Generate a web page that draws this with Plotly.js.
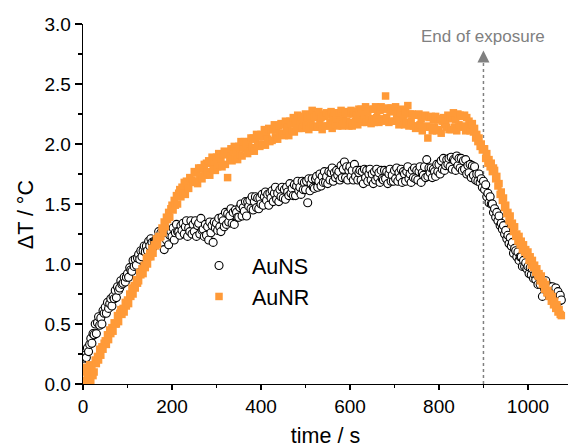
<!DOCTYPE html>
<html>
<head>
<meta charset="utf-8">
<script src="https://cdn.plot.ly/plotly-3.0.1.min.js"></script>
<style>html,body{margin:0;padding:0;background:#fff;}#chart{width:568px;height:448px;}</style>
</head>
<body>
<div id="chart"></div>
<script>
// sampling: first time (s) and step (s) of the recorded series
const timeStart = 0;
const timeStep = 2.5;

// AuNS temperature rise (°C), one value every 2.5 s from 0 s (10 values = 25 s per row)
const auNS = [
0.17,0.15,0.24,0.22,0.30,0.27,0.33,0.38,0.34,0.42,
0.41,0.50,0.42,0.51,0.56,0.49,0.55,0.50,0.61,0.59,
0.64,0.59,0.68,0.63,0.67,0.71,0.65,0.73,0.71,0.78,
0.72,0.81,0.78,0.80,0.86,0.83,0.84,0.89,0.85,0.89,
0.92,0.89,0.97,0.95,0.94,1.03,0.98,1.04,0.99,1.05,
1.08,1.04,1.11,1.06,1.11,1.15,1.10,1.15,1.11,1.19,
1.15,1.21,1.18,1.14,1.19,1.19,1.21,1.21,1.27,1.20,
1.26,1.18,1.27,1.12,1.25,1.20,1.28,1.16,1.24,1.27,
1.23,1.30,1.20,1.26,1.33,1.27,1.27,1.24,1.32,1.28,
1.34,1.25,1.31,1.36,1.23,1.30,1.27,1.36,1.25,1.33,
1.27,1.36,1.23,1.32,1.34,1.25,1.38,1.28,1.29,1.23,
1.33,1.24,1.31,1.20,1.35,1.26,1.32,1.18,1.35,1.30,
1.34,1.28,1.38,1.31,1.27,1.39,1.36,1.31,1.43,1.33,
1.42,1.35,1.40,1.46,1.34,1.43,1.33,1.45,1.43,1.39,
1.39,1.47,1.50,1.40,1.47,1.44,1.52,1.40,1.52,1.48,
1.53,1.46,1.56,1.45,1.52,1.56,1.47,1.55,1.46,1.55,
1.50,1.58,1.49,1.56,1.60,1.53,1.58,1.49,1.59,1.55,
1.61,1.52,1.59,1.64,1.54,1.59,1.52,1.62,1.56,1.64,
1.55,1.62,1.54,1.64,1.60,1.57,1.67,1.59,1.63,1.57,
1.66,1.57,1.65,1.69,1.61,1.64,1.58,1.69,1.62,1.68,
1.62,1.69,1.51,1.71,1.61,1.67,1.71,1.64,1.63,1.71,
1.73,1.64,1.69,1.75,1.65,1.73,1.68,1.77,1.68,1.73,
1.67,1.77,1.70,1.76,1.80,1.69,1.76,1.72,1.78,1.74,
1.77,1.70,1.82,1.72,1.79,1.85,1.72,1.81,1.70,1.78,
1.81,1.73,1.78,1.70,1.83,1.73,1.78,1.70,1.76,1.78,
1.70,1.77,1.67,1.79,1.72,1.78,1.69,1.75,1.79,1.70,
1.75,1.67,1.77,1.70,1.79,1.72,1.76,1.68,1.78,1.71,
1.70,1.78,1.71,1.77,1.67,1.75,1.79,1.69,1.74,1.69,
1.78,1.71,1.80,1.69,1.76,1.72,1.79,1.68,1.77,1.75,
1.69,1.77,1.81,1.71,1.75,1.68,1.78,1.72,1.80,1.71,
1.78,1.70,1.77,1.81,1.68,1.76,1.74,1.81,1.72,1.87,
1.73,1.80,1.76,1.80,1.72,1.79,1.77,1.73,1.83,1.77,
1.83,1.75,1.86,1.79,1.88,1.78,1.82,1.87,1.83,1.88,
1.81,1.89,1.79,1.87,1.86,1.78,1.90,1.82,1.88,1.80,
1.88,1.78,1.86,1.79,1.87,1.75,1.82,1.76,1.83,1.72,
1.82,1.74,1.81,1.70,1.75,1.69,1.75,1.68,1.71,1.64,
1.69,1.62,1.66,1.56,1.59,1.51,1.56,1.50,1.50,1.43,
1.46,1.39,1.43,1.36,1.40,1.32,1.34,1.29,1.32,1.25,
1.28,1.21,1.24,1.17,1.22,1.15,1.18,1.09,1.13,1.11,
1.06,1.10,1.03,1.06,1.06,0.98,1.03,0.98,1.01,0.96,
0.98,0.92,0.97,0.91,0.96,0.88,0.91,0.87,0.91,0.83,
0.89,0.83,0.88,0.73,0.84,0.79,0.86,0.78,0.82,0.74,
0.81,0.73,0.81,0.73,0.77,0.80,0.69,0.77,0.69,0.74,
0.70
];

// AuNR temperature rise (°C), one value every 2.5 s from 0 s (10 values = 25 s per row)
const auNR = [
0.03,0.10,0.00,0.14,0.05,0.08,0.16,0.02,0.12,0.07,
0.10,0.20,0.17,0.23,0.20,0.29,0.24,0.31,0.29,0.34,
0.36,0.33,0.41,0.37,0.45,0.42,0.47,0.44,0.51,0.50,
0.50,0.57,0.52,0.59,0.62,0.58,0.63,0.60,0.68,0.65,
0.70,0.67,0.75,0.73,0.80,0.75,0.82,0.80,0.87,0.84,
0.86,0.93,0.91,0.96,0.92,0.99,0.97,1.05,1.00,1.06,
1.09,1.06,1.13,1.09,1.16,1.15,1.21,1.16,1.23,1.22,
1.23,1.30,1.26,1.35,1.31,1.39,1.37,1.43,1.39,1.46,
1.49,1.45,1.53,1.49,1.57,1.50,1.59,1.62,1.56,1.64,
1.59,1.68,1.58,1.69,1.67,1.63,1.72,1.69,1.70,1.68,
1.77,1.69,1.76,1.67,1.80,1.73,1.80,1.71,1.79,1.83,
1.74,1.84,1.77,1.86,1.74,1.84,1.89,1.79,1.85,1.78,
1.89,1.81,1.92,1.83,1.88,1.81,1.91,1.94,1.83,1.92,
1.72,1.93,1.87,1.96,1.86,1.94,1.98,1.88,1.94,1.87,
1.98,1.91,2.02,1.90,1.97,2.02,1.96,2.00,1.92,2.02,
1.94,2.05,1.97,2.05,1.94,2.04,2.08,1.99,2.06,1.98,
2.08,2.00,2.06,2.12,1.99,2.09,2.04,2.13,2.02,2.12,
2.03,2.12,2.16,2.06,2.12,2.04,2.15,2.09,2.17,2.08,
2.16,2.07,2.19,2.11,2.14,2.07,2.19,2.17,2.11,2.22,
2.10,2.20,2.15,2.24,2.13,2.19,2.23,2.13,2.20,2.16,
2.25,2.15,2.22,2.12,2.24,2.17,2.28,2.15,2.22,2.14,
2.24,2.14,2.27,2.17,2.22,2.12,2.25,2.23,2.15,2.26,
2.15,2.24,2.18,2.27,2.13,2.23,2.26,2.16,2.21,2.15,
2.26,2.18,2.28,2.15,2.23,2.17,2.27,2.19,2.25,2.15,
2.18,2.28,2.15,2.25,2.27,2.19,2.24,2.16,2.29,2.21,
2.29,2.18,2.26,2.21,2.31,2.18,2.27,2.21,2.29,2.17,
2.21,2.29,2.18,2.31,2.22,2.28,2.18,2.28,2.31,2.21,
2.29,2.19,2.40,2.22,2.30,2.18,2.27,2.30,2.19,2.27,
2.19,2.31,2.22,2.27,2.16,2.26,2.29,2.19,2.24,2.16,
2.27,2.18,2.32,2.15,2.25,2.19,2.25,2.15,2.24,2.13,
2.24,2.15,2.25,2.16,2.21,2.11,2.23,2.14,2.24,2.15,
2.05,2.22,2.14,2.23,2.11,2.20,2.14,2.23,2.11,2.20,
2.12,2.21,2.09,2.19,2.22,2.16,2.19,2.14,2.24,2.12,
2.23,2.12,2.21,2.26,2.14,2.20,2.11,2.25,2.16,2.24,
2.14,2.23,2.15,2.24,2.11,2.22,2.14,2.19,2.11,2.16,
2.17,2.10,2.13,2.05,2.08,2.02,2.05,1.98,2.00,1.95,
1.96,1.96,1.88,1.92,1.84,1.87,1.81,1.84,1.77,1.80,
1.78,1.71,1.73,1.65,1.67,1.58,1.60,1.53,1.55,1.47,
1.49,1.42,1.43,1.36,1.40,1.33,1.34,1.27,1.31,1.23,
1.25,1.19,1.23,1.16,1.19,1.12,1.16,1.10,1.12,1.08,
1.10,1.03,1.06,0.99,1.03,0.97,0.99,0.93,0.96,0.90,
0.92,0.86,0.90,0.83,0.85,0.79,0.83,0.76,0.78,0.73,
0.75,0.69,0.73,0.66,0.69,0.63,0.66,0.60,0.62,0.58,
0.57
];

const seriesNames = ["AuNS", "AuNR"];
const xTickVals = [0, 200, 400, 600, 800, 1000];
const yTickVals = [0, 0.5, 1.0, 1.5, 2.0, 2.5, 3.0];
const xTitle = "time / s";
const yTitle = "ΔT / °C";
const exposureEnd = 900;          // s
const exposureLabel = "End of exposure";

const FONT = "Liberation Sans, Arial, Helvetica, sans-serif";
const ORANGE = "#FF9A38";
const GRAY = "#808080";

const traces = [
  {
    type: "scatter", mode: "markers", name: seriesNames[0],
    x0: timeStart, dx: timeStep, y: auNS,
    marker: {symbol: "circle", size: 8, color: "#ffffff", line: {color: "#000000", width: 1.1}}
  },
  {
    type: "scatter", mode: "markers", name: seriesNames[1],
    x0: timeStart, dx: timeStep, y: auNR,
    marker: {symbol: "square", size: 7.5, color: ORANGE, line: {width: 0}}
  }
];

const layout = {
  width: 568, height: 448,
  margin: {l: 83, r: 0, t: 24, b: 64, pad: 0},
  paper_bgcolor: "#ffffff", plot_bgcolor: "#ffffff",
  font: {family: FONT, color: "#000000", size: 19},
  showlegend: true,
  legend: {
    x: 0.2124, y: 0.386, xanchor: "left", yanchor: "top",
    bgcolor: "rgba(0,0,0,0)", borderwidth: 0,
    font: {family: FONT, size: 21.5, color: "#000000"},
    itemwidth: 56, tracegroupgap: 0
  },
  xaxis: {
    range: [0, 1090], tickvals: xTickVals, ticktext: xTickVals.map(String),
    ticks: "outside", ticklen: 5, tickwidth: 1.2, tickcolor: "#000",
    minor: {dtick: 100, ticks: "outside", ticklen: 3, tickwidth: 1.2, tickcolor: "#000"},
    showline: true, linecolor: "#000", linewidth: 1.3,
    showgrid: false, zeroline: false, mirror: false,
    tickfont: {family: FONT, size: 19},
    title: {text: xTitle, font: {family: FONT, size: 21.5}, standoff: 12}
  },
  yaxis: {
    range: [0, 3.0], tickvals: yTickVals, tickformat: ".1f",
    ticks: "outside", ticklen: 7, tickwidth: 1.2, tickcolor: "#000",
    minor: {dtick: 0.25, ticks: "outside", ticklen: 3.5, tickwidth: 1.2, tickcolor: "#000"},
    showline: true, linecolor: "#000", linewidth: 1.3,
    showgrid: false, zeroline: false, mirror: false,
    tickfont: {family: FONT, size: 19},
    title: {text: ""}
  },
  shapes: [
    {type: "line", xref: "x", yref: "y", x0: exposureEnd, x1: exposureEnd, y0: 0, y1: 2.68,
     line: {color: GRAY, width: 1.5, dash: "dot"}, layer: "below"}
  ],
  annotations: [
    {xref: "paper", yref: "paper", x: -0.1175, y: 0.469, xanchor: "center", yanchor: "middle",
     text: yTitle, textangle: -90, showarrow: false, font: {family: FONT, size: 21.5, color: "#000"}},
    {xref: "x", yref: "y", x: exposureEnd, y: 2.78, axref: "x", ayref: "y", ax: exposureEnd, ay: 2.68,
     showarrow: true, arrowhead: 2, arrowsize: 1.6, arrowwidth: 1.5, arrowcolor: GRAY, text: ""},
    {xref: "x", yref: "y", x: exposureEnd, y: 2.9, text: exposureLabel, showarrow: false,
     font: {family: FONT, size: 17, color: GRAY}}
  ]
};

Plotly.newPlot("chart", traces, layout, {displayModeBar: false, staticPlot: true});
</script>
</body>
</html>
